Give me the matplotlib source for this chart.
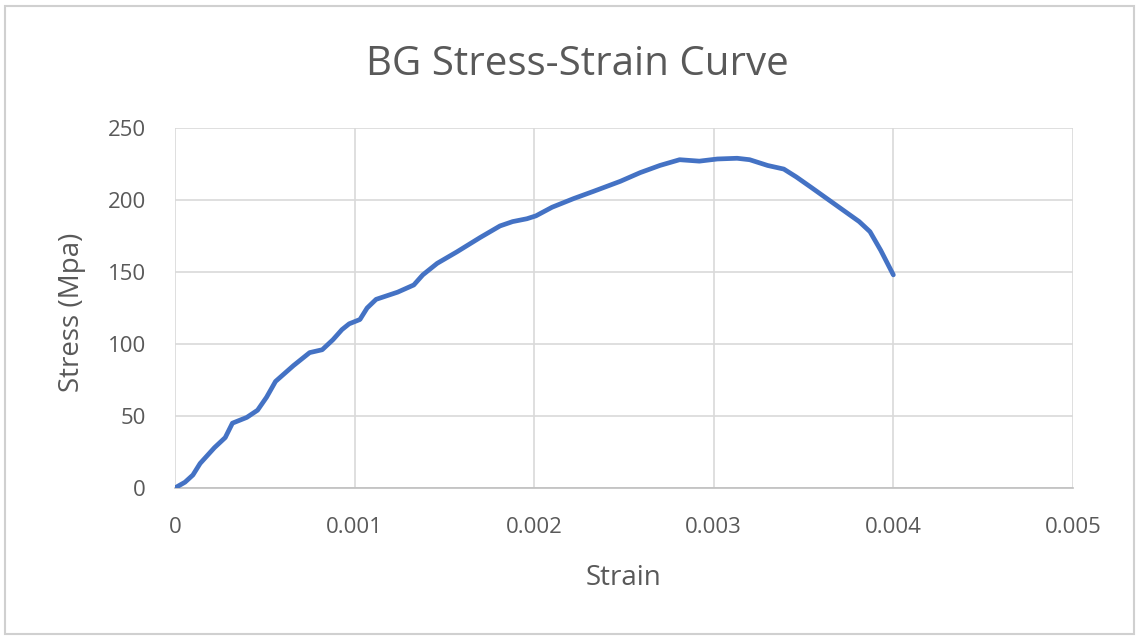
import matplotlib.pyplot as plt
from matplotlib.patches import Rectangle

# strain / stress readings for the BG specimen
strain = [0, 0.000056, 0.0001, 0.00014, 0.00022, 0.00028, 0.00032, 0.0004,
          0.00046, 0.00051, 0.00056, 0.00066, 0.00075, 0.00082, 0.00088,
          0.00093, 0.00097, 0.00103, 0.00107, 0.00112, 0.00124, 0.00133,
          0.00138, 0.00146, 0.00157, 0.0017, 0.00181, 0.00188, 0.00196,
          0.00201, 0.0021, 0.00222, 0.00233, 0.00248, 0.00259, 0.0027,
          0.00281, 0.00292, 0.00302, 0.00313, 0.0032, 0.0033, 0.00339,
          0.00346, 0.00354, 0.00363, 0.00372, 0.00381, 0.00387, 0.00393,
          0.004]
stress = [0, 4, 9, 17, 28, 35, 45, 49, 54, 63, 74, 85, 94, 96, 103, 110, 114,
          117, 125, 131, 136, 141, 148, 156, 164, 174, 182, 185, 187, 189, 195,
          201, 206, 213, 219, 224, 228, 227, 228.5, 229, 228, 224, 221.5, 216,
          209, 201, 193, 185, 178, 165, 148]

x_ticks = [0, 0.001, 0.002, 0.003, 0.004, 0.005]
x_labels = ['0', '0.001', '0.002', '0.003', '0.004', '0.005']
y_ticks = [0, 50, 100, 150, 200, 250]

plt.rcParams['font.family'] = ['Open Sans', 'DejaVu Sans']
text_color = '#595959'

fig = plt.figure(figsize=(11.39, 6.37), dpi=100)
ax = fig.add_axes([0.1536, 0.234, 0.7884, 0.565])

ax.plot(strain, stress, color='#4472C4', linewidth=3.4,
        solid_joinstyle='round', solid_capstyle='round', zorder=3)

ax.set_xlim(0, 0.005)
ax.set_ylim(0, 250)
ax.set_xticks(x_ticks)
ax.set_xticklabels(x_labels)
ax.set_yticks(y_ticks)

ax.grid(True, color='#d9d9d9', linewidth=1.2)
for side in ['top', 'right', 'left']:
    ax.spines[side].set_visible(False)
ax.spines['bottom'].set_color('#bfbfbf')
ax.spines['bottom'].set_linewidth(1.2)
ax.tick_params(length=0, labelsize=16, labelcolor=text_color)
ax.tick_params(axis='x', pad=21)
ax.tick_params(axis='y', pad=21)

ax.set_xlabel('Strain', fontsize=20, color=text_color)
ax.xaxis.set_label_coords(0.5, -0.2694)
ax.xaxis.label.set_va('baseline')
ax.set_ylabel('Stress (Mpa)', fontsize=20, color=text_color)
ax.yaxis.set_label_coords(-0.1147, 0.489)
ax.yaxis.label.set_va('center')

fig.text(0.507, 0.882, 'BG Stress-Strain Curve', fontsize=29,
         color=text_color, ha='center', va='baseline')

# thin frame round the chart area
fig.patches.append(Rectangle((0.004, 0.005), 0.992, 0.985, transform=fig.transFigure,
                             fill=False, edgecolor='#d0d0d0', linewidth=1.5))

fig.savefig('out.png', dpi=100, facecolor='white')
